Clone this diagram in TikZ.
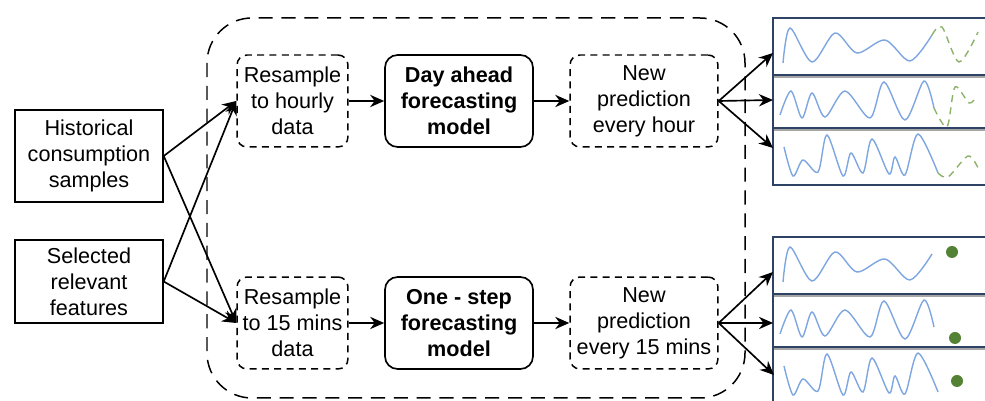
\documentclass[tikz,border=0pt]{standalone}
\usepackage{fontspec}
\setmainfont{Liberation Sans}
\usetikzlibrary{positioning,
				arrows.meta}
\definecolor{panelline}{HTML}{2E4266}
\definecolor{panelshade}{HTML}{A6A6A6}
\definecolor{waveblue}{HTML}{7EA6E0}
\definecolor{wavegreen}{HTML}{8DB26A}
\definecolor{dotgreen}{HTML}{548235}
\tikzset{
	txt/.style={font=\fontsize{12.3pt}{14.8pt}\selectfont, align=center, inner sep=0pt},
	inbox/.style={txt, draw, line width=0.85pt, minimum width=2.96cm, minimum height=1.84cm},
	stagebox/.style={txt, draw, dash pattern=on 4pt off 3pt, line width=0.85pt, rounded corners=0.2cm, minimum height=1.84cm},
	modelbox/.style={txt, draw, line width=0.95pt, rounded corners=0.25cm, minimum width=2.96cm, minimum height=1.84cm, font=\fontsize{12.3pt}{14.8pt}\selectfont\bfseries},
	link/.style={->, line width=0.95pt},
	panel/.style={draw=panelline, line width=0.9pt},
	wave/.style={waveblue, line width=0.8pt},
	guess/.style={wavegreen, line width=0.8pt, dash pattern=on 4pt off 3pt}
}
\begin{document}
\begin{tikzpicture}[x=0.02cm, y=-0.02cm, >={Stealth[length=8pt,width=7pt]}]
	\useasboundingbox (0,0) rectangle (985,401);
	% outer frame
	\draw[line width=0.85pt, dash pattern=on 8pt off 5pt, rounded corners=0.9cm] (207,18) rectangle (745,398);
	% inputs
	\node[inbox] (hist) at (89,156) {Historical\\consumption\\samples};
	\node[inbox, minimum height=1.66cm] (feat) at (89,281.5) {Selected\\relevant\\features};
	% hourly branch
	\node[stagebox, minimum width=2.22cm] (reshour) at (292.5,101) {Resample\\to hourly\\data};
	\node[modelbox] (dayahead) at (459,101) {Day ahead\\forecasting\\model};
	\node[stagebox, minimum width=2.96cm] (predhour) at (644,101) {New\\prediction\\every hour};
	% 15 min branch
	\node[stagebox, minimum width=2.22cm] (resmin) at (292.5,323) {Resample\\to 15 mins\\data};
	\node[modelbox] (onestep) at (459,323) {One - step\\forecasting\\model};
	\node[stagebox, minimum width=2.96cm] (predmin) at (644,323) {New\\prediction\\every 15 mins};
	% plot panels
	\foreach \dy in {0,219} {
		\draw[panelshade, line width=0.8pt] (774,77+\dy) -- (990,77+\dy) (774,130+\dy) -- (990,130+\dy) (774,185+\dy) -- (990,185+\dy);
		\draw[panel] (990,18+\dy) -- (773,18+\dy) -- (773,185+\dy) -- (990,185+\dy);
		\draw[panel] (773,75+\dy) -- (990,75+\dy) (773,128+\dy) -- (990,128+\dy);
		\draw[wave] plot[smooth] coordinates {(783,63+\dy) (790,28+\dy) (812,62+\dy) (835,33+\dy) (857,53+\dy) (885,40+\dy) (910,61+\dy) (932,35+\dy)};
		\draw[wave] plot[smooth] coordinates {(780,115+\dy) (791,91+\dy) (802,118+\dy) (812,93+\dy) (825,117+\dy) (845,91+\dy) (870,118+\dy) (884,82+\dy) (905,120+\dy) (924,81+\dy) (934,108+\dy)};
		\draw[wave] plot[smooth] coordinates {(784,147+\dy) (793,176+\dy) (803,160+\dy) (818,172+\dy) (827,135+\dy) (843,176+\dy) (851,153+\dy) (863,173+\dy) (872,139+\dy) (889,174+\dy) (895,157+\dy) (905,175+\dy) (918,134+\dy) (938,173+\dy)};
	}
	\draw[guess] plot[smooth] coordinates {(932,35) (942,27) (959,62) (978,32)};
	\draw[guess] plot[smooth] coordinates {(934,108) (947,127) (955,87) (969,103) (976,97)};
	\draw[guess] plot[smooth] coordinates {(938,173) (948,177) (968,156) (978,168)};
	\fill[dotgreen] (952,252) circle (6) (955,338) circle (6) (957,381) circle (6);
	% arrow ends
	\coordinate (hourA) at (773,53);
	\coordinate (hourB) at (773,100);
	\coordinate (hourC) at (773,148);
	\coordinate (minA) at (773,272);
	\coordinate (minB) at (773,323);
	\coordinate (minC) at (774,375);
	% connections
	\draw[link] (hist.east) -- (reshour.west);
	\draw[link] (hist.east) -- (resmin.west);
	\draw[link] (feat.east) -- (reshour.west);
	\draw[link] (feat.east) -- (resmin.west);
	\draw[link] (reshour) -- (dayahead);
	\draw[link] (dayahead) -- (predhour);
	\draw[link] (resmin) -- (onestep);
	\draw[link] (onestep) -- (predmin);
	\foreach \t in {hourA,hourB,hourC}
		\draw[link] (predhour.east) -- (\t);
	\foreach \t in {minA,minB,minC}
		\draw[link] (predmin.east) -- (\t);
\end{tikzpicture}
\end{document}
